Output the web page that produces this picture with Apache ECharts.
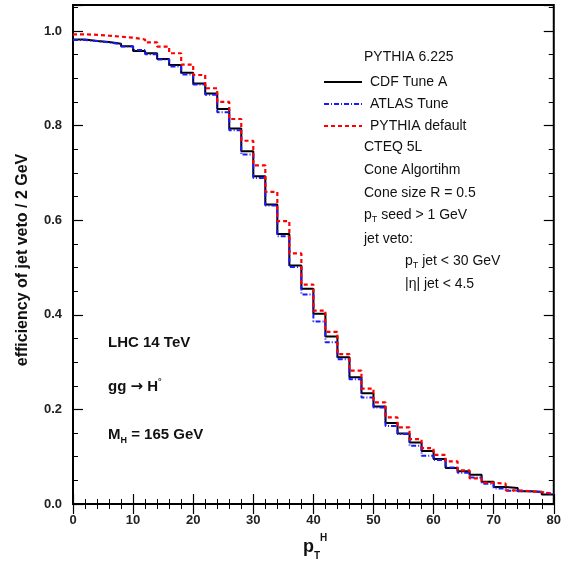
<!DOCTYPE html>
<html>
<head>
<meta charset="utf-8">
<script src="https://cdn.jsdelivr.net/npm/echarts@6/dist/echarts.min.js"></script>
<style>html,body{margin:0;padding:0;background:#fff}#c{width:564px;height:564px}</style>
</head>
<body>
<div id="c"></div>
<script>
// bin edges (GeV), 2 GeV bins
const binEdges = [0,2,4,6,8,10,12,14,16,18,20,22,24,26,28,30,32,34,36,38,40,42,44,46,48,50,52,54,56,58,60,62,64,66,68,70,72,74,76,78,80];
// efficiency per bin
const cdfTuneA = [0.982,0.979,0.977,0.973,0.968,0.958,0.953,0.941,0.928,0.912,0.889,0.868,0.835,0.794,0.746,0.693,0.633,0.571,0.504,0.455,0.402,0.354,0.310,0.268,0.234,0.206,0.171,0.149,0.130,0.112,0.095,0.076,0.069,0.062,0.047,0.036,0.034,0.027,0.026,0.020];
const atlasTune = [0.981,0.979,0.976,0.972,0.967,0.960,0.951,0.940,0.925,0.908,0.887,0.865,0.828,0.790,0.739,0.689,0.631,0.566,0.501,0.443,0.386,0.342,0.306,0.264,0.225,0.204,0.165,0.148,0.123,0.102,0.093,0.077,0.066,0.056,0.043,0.033,0.028,0.027,0.025,0.021];
const pythiaDefault = [0.993,0.992,0.990,0.988,0.986,0.982,0.976,0.967,0.953,0.929,0.907,0.879,0.850,0.814,0.768,0.716,0.660,0.598,0.530,0.464,0.409,0.364,0.317,0.282,0.244,0.215,0.183,0.162,0.137,0.118,0.104,0.090,0.071,0.054,0.045,0.043,0.029,0.027,0.025,0.022];
const seriesNames = ['CDF Tune A','ATLAS Tune','PYTHIA default'];
const xTicks = [0,10,20,30,40,50,60,70,80];
const yTicks = ['0.0','0.2','0.4','0.6','0.8','1.0'];

function steps(vals){ return binEdges.map((x,i)=>[x, vals[Math.min(i, vals.length-1)]]); }

const FONT = 'Liberation Sans, Arial, sans-serif';
const YMAX = 1.055;
const chart = echarts.init(document.getElementById('c'), null, {renderer:'canvas'});

const majorY = (pos) => ({
  type:'value', position:pos, min:0, max:YMAX, interval:0.2,
  axisLine:{show:false}, splitLine:{show:false},
  axisTick:{show:true, inside:true, length:10, lineStyle:{color:'#000', width:1.2}},
  axisLabel:{show: pos==='left', margin:11, fontFamily:FONT, fontWeight:'bold', fontSize:13, color:'#222',
    formatter:(v)=>{ const k=v/0.2; if(Math.abs(k-Math.round(k))>1e-6) return ''; return yTicks[Math.round(k)] || ''; }}
});
const minorY = (pos) => ({
  type:'value', position:pos, min:0, max:YMAX, interval:0.05,
  axisLine:{show:false}, splitLine:{show:false}, axisLabel:{show:false},
  axisTick:{show:true, inside:true, length:5, lineStyle:{color:'#000', width:1}}
});
const xAx = (pos, labels) => ({
  type:'value', position:pos, min:0, max:80, interval:10,
  axisLine:{show:false}, splitLine:{show:false},
  axisTick:{show:true, inside:true, length:10, lineStyle:{color:'#000', width:1.2}},
  minorTick:{show:true, splitNumber:5, length:5, lineStyle:{color:'#000', width:1}},
  axisLabel:{show:labels, margin:10, fontFamily:FONT, fontWeight:'bold', fontSize:13, color:'#222',
    formatter:(v)=> xTicks.indexOf(v)>=0 ? String(v) : ''}
});

const sub = {fontFamily:FONT, fontSize:9, lineHeight:9, verticalAlign:'bottom', fill:'#111'};
function txt(x,y,rich,text,extra){
  return Object.assign({type:'text', x:x, y:y, style:{text:text, rich:rich, fontFamily:FONT, fontSize:14, fill:'#111', verticalAlign:'middle', align:'left'}, z:10}, extra||{});
}
const nRich = {n:{fontFamily:FONT, fontSize:14, lineHeight:18, fill:'#111'}, s:sub};
const bRich = {b:{fontFamily:FONT, fontSize:15, fontWeight:'bold', lineHeight:20, fill:'#111'},
  a:{fontFamily:'DejaVu Sans, sans-serif', fontSize:15, fontWeight:'bold', lineHeight:20, fill:'#111'},
  s:{fontFamily:FONT, fontSize:9, fontWeight:'bold', lineHeight:9, verticalAlign:'bottom', fill:'#111'},
  u:{fontFamily:FONT, fontSize:9, fontWeight:'bold', lineHeight:9, verticalAlign:'top', fill:'#111'}};

const option = {
  animation:false,
  backgroundColor:'#fff',
  grid:{left:73, top:5, right:6, bottom:60, show:true, borderColor:'#000', borderWidth:2, backgroundColor:'transparent'},
  xAxis:[xAx('bottom', true), xAx('top', false)],
  yAxis:[majorY('left'), minorY('left'), majorY('right'), minorY('right')],
  legend:{
    data:seriesNames, orient:'vertical', left:318, top:70, itemWidth:38, itemHeight:14, itemGap:8,
    itemStyle:{color:'transparent', borderColor:'transparent', borderWidth:0, opacity:0},
    textStyle:{fontFamily:FONT, fontSize:14, color:'#111', padding:[0,0,0,3]}, selectedMode:false
  },
  series:[
    {name:seriesNames[0], type:'line', step:'end', data:steps(cdfTuneA), symbol:'none', xAxisIndex:0, yAxisIndex:0,
      lineStyle:{color:'#000', width:2}, itemStyle:{color:'#000'}, z:3},
    {name:seriesNames[1], type:'line', step:'end', data:steps(atlasTune), symbol:'none', xAxisIndex:0, yAxisIndex:0,
      lineStyle:{color:'#1a1aff', width:2, type:[5,2,1,2]}, itemStyle:{color:'#1a1aff'}, z:4},
    {name:seriesNames[2], type:'line', step:'end', data:steps(pythiaDefault), symbol:'none', xAxisIndex:0, yAxisIndex:0,
      lineStyle:{color:'#ff0000', width:2.2, type:[4,3]}, itemStyle:{color:'#ff0000'}, z:5}
  ],
  graphic:[
    txt(364,57,null,'PYTHIA 6.225'),
    txt(364,147,null,'CTEQ 5L'),
    txt(364,170.5,null,'Cone Algortihm'),
    txt(364,193,null,'Cone size R = 0.5'),
    txt(364,215,nRich,'{n|p}{s|T}{n| seed > 1 GeV}'),
    txt(364,239,null,'jet veto:'),
    txt(405,261,nRich,'{n|p}{s|T}{n| jet < 30 GeV}'),
    txt(405,284,null,'|η| jet < 4.5'),
    txt(108,343,bRich,'{b|LHC 14 TeV}'),
    txt(108,387,bRich,'{b|gg }{a|→}{b| H}{u|°}'),
    txt(108,435,bRich,'{b|M}{s|H}{b| = 165 GeV}'),
    {type:'text', x:23, y:260, rotation:Math.PI/2, style:{text:'efficiency of jet veto / 2 GeV', fontFamily:FONT, fontSize:16, fontWeight:'bold', fill:'#111', align:'center', verticalAlign:'middle'}, z:10},
    txt(303,547,{p:{fontFamily:FONT, fontSize:18, fontWeight:'bold', lineHeight:28, fill:'#111'},
      s:{fontFamily:FONT, fontSize:10, fontWeight:'bold', lineHeight:10, verticalAlign:'bottom', fill:'#111'},
      u:{fontFamily:FONT, fontSize:10, fontWeight:'bold', lineHeight:10, verticalAlign:'top', fill:'#111'}},
      '{p|p}{s|T}{u|H}')
  ]
};
chart.setOption(option);
</script>
</body>
</html>
